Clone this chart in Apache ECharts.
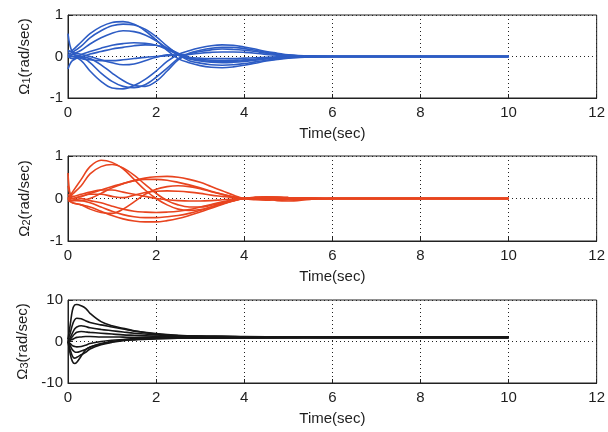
<!DOCTYPE html>
<html>
<head>
<meta charset="utf-8">
<script src="https://cdn.jsdelivr.net/npm/echarts@6/dist/echarts.min.js"></script>
<style>
  html, body { margin: 0; padding: 0; background: #fff; }
  #chart { width: 608px; height: 432px; }
</style>
</head>
<body>
<div id="chart"></div>
<script>
// Sample times (sec) for the Omega1 / Omega2 responses
const tA = [0, 0.1, 0.3, 0.5, 0.75, 1, 1.25, 1.5, 1.75, 2, 2.25, 2.5, 2.75, 3, 3.25, 3.5, 3.75, 4, 4.25, 4.5, 4.75, 5, 5.5, 6, 7, 8, 9, 10];

// Omega1 (rad/sec), one array per trajectory
const w1_a = [0.10, 0.15, 0.35, 0.55, 0.72, 0.82, 0.84, 0.78, 0.62, 0.40, 0.15, -0.05, -0.15, -0.22, -0.26, -0.27, -0.25, -0.21, -0.16, -0.11, -0.07, -0.04, -0.01, 0.00, 0.00, 0.00, 0.00, 0.00];
const w1_b = [0.05, 0.10, 0.25, 0.45, 0.62, 0.74, 0.78, 0.76, 0.66, 0.48, 0.25, 0.05, -0.10, -0.16, -0.20, -0.21, -0.20, -0.17, -0.13, -0.09, -0.06, -0.03, -0.01, 0.00, 0.00, 0.00, 0.00, 0.00];
const w1_c = [0.00, 0.05, 0.15, 0.30, 0.45, 0.56, 0.62, 0.60, 0.52, 0.38, 0.20, 0.03, -0.06, -0.11, -0.14, -0.15, -0.14, -0.12, -0.09, -0.06, -0.04, -0.02, 0.00, 0.00, 0.00, 0.00, 0.00, 0.00];
const w1_d = [0.00, -0.05, 0.05, 0.12, 0.20, 0.27, 0.31, 0.33, 0.32, 0.27, 0.17, 0.05, -0.04, -0.07, -0.09, -0.10, -0.09, -0.08, -0.06, -0.04, -0.02, -0.01, 0.00, 0.00, 0.00, 0.00, 0.00, 0.00];
const w1_e = [0.05, 0.00, 0.00, 0.06, 0.12, 0.18, 0.22, 0.26, 0.28, 0.27, 0.20, 0.08, -0.02, -0.04, -0.05, -0.05, -0.05, -0.04, -0.03, -0.02, -0.01, 0.00, 0.00, 0.00, 0.00, 0.00, 0.00, 0.00];
const w1_f = [0.00, 0.00, -0.10, -0.35, -0.60, -0.76, -0.78, -0.70, -0.55, -0.35, -0.12, 0.05, 0.14, 0.21, 0.26, 0.28, 0.27, 0.23, 0.18, 0.12, 0.08, 0.04, 0.01, 0.00, 0.00, 0.00, 0.00, 0.00];
const w1_g = [-0.30, -0.10, -0.02, -0.15, -0.40, -0.60, -0.72, -0.75, -0.68, -0.50, -0.28, -0.05, 0.08, 0.15, 0.20, 0.22, 0.22, 0.19, 0.15, 0.10, 0.06, 0.03, 0.01, 0.00, 0.00, 0.00, 0.00, 0.00];
const w1_h = [0.00, 0.05, 0.00, -0.05, -0.20, -0.40, -0.58, -0.70, -0.72, -0.60, -0.35, -0.08, 0.06, 0.12, 0.16, 0.18, 0.17, 0.15, 0.12, 0.08, 0.05, 0.03, 0.01, 0.00, 0.00, 0.00, 0.00, 0.00];
const w1_i = [0.55, 0.10, -0.05, -0.08, -0.10, -0.10, -0.08, -0.05, -0.02, 0.00, 0.02, 0.04, 0.05, 0.08, 0.10, 0.11, 0.11, 0.10, 0.08, 0.05, 0.03, 0.02, 0.00, 0.00, 0.00, 0.00, 0.00, 0.00];
const w1_j = [0.15, 0.10, 0.05, 0.00, -0.08, -0.15, -0.20, -0.18, -0.10, -0.02, 0.04, 0.03, -0.04, -0.09, -0.12, -0.13, -0.12, -0.10, -0.08, -0.05, -0.03, -0.02, 0.00, 0.00, 0.00, 0.00, 0.00, 0.00];

// Omega2 (rad/sec)
const w2_a = [0.00, 0.15, 0.45, 0.75, 0.90, 0.85, 0.70, 0.45, 0.20, 0.00, -0.15, -0.25, -0.28, -0.26, -0.20, -0.13, -0.05, 0.00, 0.03, 0.04, 0.03, 0.02, 0.01, 0.00, 0.00, 0.00, 0.00, 0.00];
const w2_b = [0.00, 0.10, 0.30, 0.58, 0.75, 0.80, 0.72, 0.55, 0.33, 0.12, -0.05, -0.15, -0.20, -0.20, -0.16, -0.10, -0.04, 0.00, 0.02, 0.03, 0.02, 0.01, 0.00, 0.00, 0.00, 0.00, 0.00, 0.00];
const w2_c = [0.00, 0.00, 0.05, 0.12, 0.20, 0.28, 0.35, 0.42, 0.48, 0.51, 0.52, 0.50, 0.45, 0.38, 0.28, 0.18, 0.08, 0.00, -0.03, -0.04, -0.03, -0.02, -0.01, 0.00, 0.00, 0.00, 0.00, 0.00];
const w2_d = [0.10, 0.00, -0.05, 0.00, 0.12, 0.25, 0.35, 0.42, 0.45, 0.45, 0.43, 0.38, 0.32, 0.25, 0.17, 0.10, 0.04, 0.00, 0.02, 0.03, 0.03, 0.02, 0.01, 0.00, 0.00, 0.00, 0.00, 0.00];
const w2_e = [0.30, 0.05, 0.10, 0.15, 0.20, 0.20, 0.15, 0.10, 0.05, 0.00, -0.03, -0.05, -0.06, -0.06, -0.05, -0.03, -0.01, 0.00, 0.00, 0.00, 0.00, 0.00, 0.00, 0.00, 0.00, 0.00, 0.00, 0.00];
const w2_f = [0.00, -0.10, -0.15, -0.20, -0.30, -0.40, -0.48, -0.53, -0.55, -0.55, -0.52, -0.47, -0.40, -0.32, -0.23, -0.14, -0.06, 0.00, 0.02, 0.00, -0.05, -0.06, -0.02, 0.00, 0.00, 0.00, 0.00, 0.00];
const w2_g = [0.00, -0.05, -0.05, -0.10, -0.20, -0.30, -0.38, -0.43, -0.45, -0.45, -0.43, -0.40, -0.35, -0.28, -0.20, -0.12, -0.05, 0.00, 0.01, 0.00, -0.02, -0.03, -0.01, 0.00, 0.00, 0.00, 0.00, 0.00];
const w2_h = [0.00, -0.05, 0.00, -0.05, -0.10, -0.18, -0.25, -0.30, -0.32, -0.33, -0.32, -0.30, -0.26, -0.20, -0.14, -0.08, -0.03, 0.00, 0.01, 0.02, 0.02, 0.01, 0.00, 0.00, 0.00, 0.00, 0.00, 0.00];
const w2_i = [-0.05, -0.10, -0.15, -0.25, -0.33, -0.35, -0.25, -0.08, 0.10, 0.22, 0.28, 0.30, 0.28, 0.23, 0.16, 0.10, 0.04, 0.00, -0.01, -0.02, -0.01, 0.00, 0.00, 0.00, 0.00, 0.00, 0.00, 0.00];
const w2_j = [0.60, 0.00, 0.05, 0.10, 0.10, 0.05, 0.02, 0.08, 0.14, 0.17, 0.18, 0.17, 0.15, 0.12, 0.08, 0.05, 0.02, 0.00, 0.02, 0.03, 0.03, 0.02, 0.01, 0.00, 0.00, 0.00, 0.00, 0.00];

// Sample times (sec) for the Omega3 responses
const tB = [0, 0.05, 0.1, 0.15, 0.2, 0.3, 0.4, 0.5, 0.75, 1, 1.25, 1.5, 2, 2.5, 3, 3.5, 4, 5, 6, 7, 8, 9, 10];

// Omega3 (rad/sec)
const w3_a = [0.5, 4.0, 7.5, 8.8, 8.9, 8.6, 8.0, 6.8, 4.8, 3.8, 3.2, 2.6, 1.8, 1.4, 1.2, 1.1, 1.0, 1.0, 1.0, 1.0, 1.0, 1.0, 1.0];
const w3_b = [0.5, 2.0, 4.0, 5.2, 5.6, 5.5, 5.0, 4.6, 4.0, 3.5, 3.0, 2.5, 1.9, 1.5, 1.3, 1.2, 1.1, 1.0, 1.0, 1.0, 1.0, 1.0, 1.0];
const w3_c = [0.0, 1.0, 2.0, 3.0, 3.5, 3.8, 3.6, 3.3, 2.9, 2.6, 2.3, 2.0, 1.6, 1.3, 1.2, 1.1, 1.0, 1.0, 1.0, 1.0, 1.0, 1.0, 1.0];
const w3_d = [0.0, 0.5, 1.2, 1.8, 2.2, 2.4, 2.3, 2.2, 2.0, 1.8, 1.6, 1.5, 1.3, 1.2, 1.1, 1.0, 1.0, 1.0, 1.0, 1.0, 1.0, 1.0, 1.0];
const w3_e = [0.0, 0.3, 0.5, 0.8, 1.0, 1.1, 1.2, 1.2, 1.1, 1.1, 1.05, 1.0, 1.0, 1.0, 1.0, 1.0, 1.0, 1.0, 1.0, 1.0, 1.0, 1.0, 1.0];
const w3_f = [0.0, -0.5, -1.0, -1.2, -1.3, -1.2, -0.9, -0.5, 0.0, 0.3, 0.5, 0.7, 0.8, 0.9, 0.9, 0.9, 0.9, 1.0, 1.0, 1.0, 1.0, 1.0, 1.0];
const w3_g = [0.0, -1.0, -2.0, -2.5, -2.6, -2.3, -1.9, -1.4, -0.5, 0.0, 0.3, 0.5, 0.7, 0.8, 0.85, 0.85, 0.9, 1.0, 1.0, 1.0, 1.0, 1.0, 1.0];
const w3_h = [0.0, -2.0, -3.5, -4.0, -3.8, -3.2, -2.6, -1.8, -0.8, -0.2, 0.2, 0.4, 0.7, 0.8, 0.8, 0.8, 0.85, 0.9, 1.0, 1.0, 1.0, 1.0, 1.0];
const w3_i = [0.0, -3.0, -4.8, -5.3, -5.0, -3.5, -2.0, -1.3, -0.6, -0.1, 0.3, 0.5, 0.8, 1.2, 1.3, 1.3, 1.2, 1.1, 1.0, 1.0, 1.0, 1.0, 1.0];

// Axis ticks
const xTicks = { min: 0, max: 12, interval: 2 };
const y12Ticks = { min: -1, max: 1, interval: 1 };
const y3Ticks = { min: -10, max: 10, interval: 10 };

const omega1 = [w1_a, w1_b, w1_c, w1_d, w1_e, w1_f, w1_g, w1_h, w1_i, w1_j];
const omega2 = [w2_a, w2_b, w2_c, w2_d, w2_e, w2_f, w2_g, w2_h, w2_i, w2_j];
const omega3 = [w3_a, w3_b, w3_c, w3_d, w3_e, w3_f, w3_g, w3_h, w3_i];

const FONT = 'Liberation Sans, Arial, sans-serif';
const TXT = '#1e1e1e';

const pairs = (ts, vs) => ts.map((t, k) => [t, vs[k]]);

function lineSeries(sets, ts, idx, color) {
  return sets.map(vs => ({
    type: 'line',
    xAxisIndex: idx,
    yAxisIndex: idx,
    data: pairs(ts, vs),
    smooth: 0.35,
    showSymbol: false,
    symbol: 'none',
    silent: true,
    lineStyle: { color: color, width: 1.6 },
    animation: false
  }));
}

const grids = [
  { left: 68, right: 11, top: 15, height: 83 },
  { left: 68, right: 11, top: 156, height: 85 },
  { left: 68, right: 11, top: 300, height: 83 }
];

const xAxes = grids.map((g, i) => ({
  type: 'value',
  gridIndex: i,
  min: xTicks.min, max: xTicks.max, interval: xTicks.interval,
  name: 'Time(sec)',
  nameLocation: 'middle',
  nameGap: 28,
  nameTextStyle: { fontFamily: FONT, fontSize: 15, color: TXT },
  axisLine: { show: true, onZero: false, lineStyle: { color: '#222', width: 1 } },
  axisTick: { show: true, inside: true, length: 4, lineStyle: { color: '#222' } },
  axisLabel: { fontFamily: FONT, fontSize: 15, color: TXT, margin: 7 },
  splitLine: { show: true, lineStyle: { color: '#222', type: [1, 3], width: 1 } }
}));

function yName(k) {
  return '{a|Ω}{s|' + k + '}{a|(rad/sec)}';
}

const yAxes = grids.map((g, i) => {
  const tk = i === 2 ? y3Ticks : y12Ticks;
  return {
    type: 'value',
    gridIndex: i,
    min: tk.min, max: tk.max, interval: tk.interval,
    name: yName(i + 1),
    nameLocation: 'middle',
    nameGap: 36,
    nameRotate: 90,
    nameTextStyle: {
      fontFamily: FONT, color: TXT,
      rich: {
        a: { fontFamily: FONT, fontSize: 15, color: TXT, lineHeight: 18, verticalAlign: 'bottom' },
        s: { fontFamily: FONT, fontSize: 11, color: TXT, lineHeight: 18, verticalAlign: 'bottom', padding: [6, 0, 0, 0] }
      }
    },
    axisLine: { show: true, lineStyle: { color: '#222', width: 1 } },
    axisTick: { show: true, inside: true, length: 4, lineStyle: { color: '#222' } },
    axisLabel: { fontFamily: FONT, fontSize: 15, color: TXT, margin: 5 },
    splitLine: { show: true, lineStyle: { color: '#222', type: [1, 3], width: 1 } }
  };
});

const chart = echarts.init(document.getElementById('chart'), null, { renderer: 'canvas' });
chart.setOption({
  animation: false,
  backgroundColor: '#ffffff',
  grid: grids.map(g => Object.assign({ show: true, borderColor: '#222', borderWidth: 1, backgroundColor: 'transparent' }, g)),
  xAxis: xAxes,
  yAxis: yAxes,
  series: [].concat(
    lineSeries(omega1, tA, 0, '#2d5cc4'),
    lineSeries(omega2, tA, 1, '#e8441f'),
    lineSeries(omega3, tB, 2, '#161616')
  )
});
</script>
</body>
</html>
